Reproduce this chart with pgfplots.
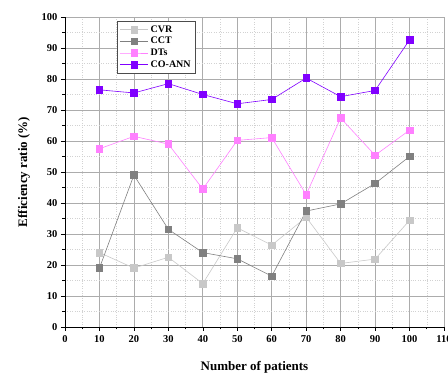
\documentclass[border=0pt]{standalone}
\usepackage{pgfplots}
\pgfplotsset{compat=1.18}
\usepackage{fontspec}
\setmainfont{Liberation Serif}
\definecolor{cvr}{RGB}{200,200,200}
\definecolor{cct}{RGB}{128,128,128}
\definecolor{dts}{RGB}{255,128,255}
\definecolor{coann}{RGB}{128,0,255}
\begin{document}
\begin{tikzpicture}
\useasboundingbox (-65pt,-47pt) rectangle (383pt,327pt);
\begin{axis}[
  scale only axis, width=379pt, height=310pt,
  at={(0,0)}, anchor=south west,
  xmin=0, xmax=110, ymin=0, ymax=100,
  xtick={0,10,...,110}, ytick={0,10,...,100},
  minor x tick num=1, minor y tick num=1,
  axis x line*=bottom, axis y line*=left,
  axis line style={thick,-},
  tick align=outside, major tick length=4pt, minor tick length=2.5pt,
  tick style={black, semithick},
  grid=both,
  major grid style={gray!65, line width=0.7pt},
  minor grid style={gray!35, dotted},
  /pgf/number format/assume math mode=true,
  ticklabel style={font=\bfseries\fontsize{10.5}{12}\selectfont},
  xticklabel style={yshift=-1pt},
  xlabel={Number of patients}, ylabel={Efficiency ratio (\%)},
  label style={font=\bfseries\fontsize{13}{15}\selectfont},
  xlabel style={yshift=-12pt},
  ylabel style={yshift=5pt},
  legend style={at={(0.137,0.987)}, anchor=north west, draw=black!70, thin,
    font=\bfseries\fontsize{10}{11}\selectfont, row sep=-0.5pt, inner sep=2.5pt},
  legend cell align=left,
  legend image code/.code={\draw[mark repeat=2,mark phase=2] plot coordinates {(0cm,0cm) (0.5cm,0cm) (1.0cm,0cm)};},
  every axis plot/.append style={line width=0.6pt, mark=square*, mark size=3.3pt},
]
\addplot[color=cvr, mark options={fill=cvr, draw=cvr}] coordinates {(10,24) (20,19) (30,22.5) (40,14) (50,32) (60,26.4) (70,35.4) (80,20.5) (90,21.9) (100,34.4)};
\addlegendentry{CVR}
\addplot[color=cct, mark options={fill=cct, draw=cct}] coordinates {(10,19) (20,49) (30,31.5) (40,24) (50,22) (60,16.4) (70,37.4) (80,39.7) (90,46.3) (100,55)};
\addlegendentry{CCT}
\addplot[color=dts, mark options={fill=dts, draw=dts}] coordinates {(10,57.5) (20,61.5) (30,59) (40,44.5) (50,60.2) (60,61.1) (70,42.7) (80,67.4) (90,55.4) (100,63.5)};
\addlegendentry{DTs}
\addplot[color=coann, mark options={fill=coann, draw=coann}] coordinates {(10,76.5) (20,75.5) (30,78.5) (40,75) (50,72) (60,73.4) (70,80.3) (80,74.3) (90,76.3) (100,92.6)};
\addlegendentry{CO-ANN}
\end{axis}
\end{tikzpicture}
\end{document}
